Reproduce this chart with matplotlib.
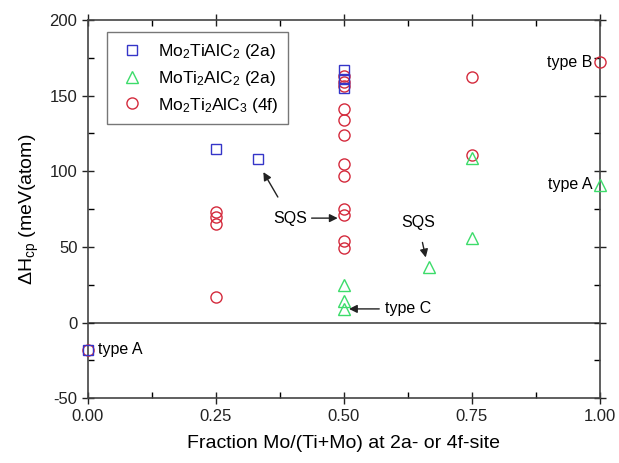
import matplotlib
matplotlib.use("Agg")
import matplotlib.pyplot as plt
from matplotlib.ticker import MultipleLocator

plt.rcParams['font.family'] = 'Liberation Sans'
plt.rcParams['mathtext.fontset'] = 'custom'
plt.rcParams['mathtext.rm'] = 'Liberation Sans'
plt.rcParams['mathtext.it'] = 'Liberation Sans'
plt.rcParams['axes.unicode_minus'] = False

# Mo2TiAlC2 (2a)
sq_x = [0.0, 0.25, 0.333, 0.5, 0.5, 0.5]
sq_y = [-18, 115, 108, 167, 161, 155]

# MoTi2AlC2 (2a)
tri_x = [0.5, 0.5, 0.5, 0.667, 0.75, 0.75, 1.0]
tri_y = [25, 14, 9, 37, 109, 56, 91]

# Mo2Ti2AlC3 (4f)
circ_x = [0.0, 0.25, 0.25, 0.25, 0.25,
          0.5, 0.5, 0.5, 0.5, 0.5, 0.5, 0.5, 0.5, 0.5, 0.5, 0.5, 0.5,
          0.75, 0.75, 1.0]
circ_y = [-18, 73, 70, 65, 17,
          163, 159, 156, 141, 134, 124, 105, 97, 75, 71, 54, 49,
          162, 111, 172]

blue = '#3535c8'
green = '#3cdc6a'
red = '#d42a3c'

fig = plt.figure(figsize=(6.19, 4.63), dpi=100)
ax = fig.add_axes([0.142, 0.140, 0.827, 0.817])

ax.axhline(0, color='#444444', lw=1.2, zorder=1)

ax.plot(circ_x, circ_y, 'o', ms=8, mfc='none', mec=red, mew=1.0, ls='none',
        label=r'Mo$_2$Ti$_2$AlC$_3$ (4f)', zorder=3, clip_on=False)
ax.plot(sq_x, sq_y, 's', ms=7.5, mfc='none', mec=blue, mew=1.0, ls='none',
        label=r'Mo$_2$TiAlC$_2$ (2a)', zorder=4, clip_on=False)
ax.plot(tri_x, tri_y, '^', ms=8.5, mfc='none', mec=green, mew=1.0, ls='none',
        label=r'MoTi$_2$AlC$_2$ (2a)', zorder=4, clip_on=False)

h, l = ax.get_legend_handles_labels()
leg = ax.legend([h[1], h[2], h[0]], [l[1], l[2], l[0]], loc='upper left',
                bbox_to_anchor=(0.02, 0.99), fontsize=12.5, frameon=True,
                fancybox=False, edgecolor='#555555', handletextpad=0.6,
                borderpad=0.55, labelspacing=0.45, handlelength=1.8)
leg.get_frame().set_linewidth(1.0)

fs = 11.5
arr = dict(arrowstyle='-|>', color='#222222', lw=1.0, mutation_scale=12)
ax.text(0.02, -18, 'type A', fontsize=fs, va='center', ha='left')
ax.text(0.985, 172, 'type B', fontsize=fs, va='center', ha='right')
ax.text(0.985, 91, 'type A', fontsize=fs, va='center', ha='right')
ax.annotate('SQS', xy=(0.34, 101), xytext=(0.395, 69), fontsize=fs,
            ha='center', va='center', arrowprops=dict(arr, shrinkA=9, shrinkB=2))
ax.annotate('', xy=(0.488, 69), xytext=(0.437, 69), arrowprops=dict(arr, shrinkA=0, shrinkB=0))
ax.annotate('SQS', xy=(0.66, 43), xytext=(0.645, 66), fontsize=fs,
            ha='center', va='center', arrowprops=dict(arr, shrinkA=7, shrinkB=0))
ax.annotate('type C', xy=(0.51, 9), xytext=(0.58, 9), fontsize=fs,
            ha='left', va='center', arrowprops=dict(arr, shrinkA=2, shrinkB=0))

ax.set_xlim(0, 1.0)
ax.set_ylim(-50, 200)
ax.xaxis.set_major_locator(MultipleLocator(0.25))
ax.xaxis.set_minor_locator(MultipleLocator(0.125))
ax.yaxis.set_major_locator(MultipleLocator(50))
ax.yaxis.set_minor_locator(MultipleLocator(25))
ax.set_xticks([0, 0.25, 0.5, 0.75, 1.0])
ax.set_xticklabels(['0.00', '0.25', '0.50', '0.75', '1.00'])
ax.tick_params(which='major', direction='inout', length=8, width=1.0,
               top=True, right=True, labelsize=12, colors='#222222')
ax.tick_params(which='minor', direction='in', length=4, width=1.0,
               top=True, right=True)
for s in ax.spines.values():
    s.set_linewidth(1.2)
    s.set_color('#444444')

ax.set_xlabel('Fraction Mo/(Ti+Mo) at 2a- or 4f-site', fontsize=14, labelpad=8)
ax.set_ylabel(r'$\Delta$H$_{\rm cp}$ (meV(atom)', fontsize=14, labelpad=6)

fig.savefig('out.png', dpi=100)
